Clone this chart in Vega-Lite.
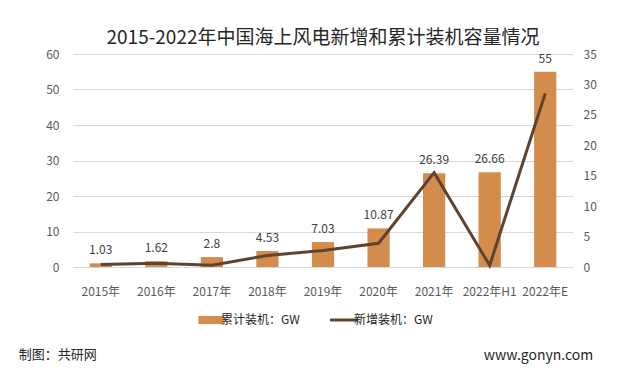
{
  "$schema": "https://vega.github.io/schema/vega-lite/v6.json",
  "background": "white",
  "padding": {"left": 18, "top": 29, "right": 5, "bottom": 10},
  "config": {
    "font": "Noto Sans CJK SC",
    "view": {"stroke": null},
    "axis": {"labelFont": "Noto Sans CJK SC", "labelColor": "#595959", "labelFontSize": 12, "ticks": false, "domain": false, "title": null}
  },
  "title": {"text": "www.gonyn.com", "orient": "bottom", "anchor": "end", "fontSize": 14, "fontWeight": "normal", "color": "#262626", "font": "Noto Sans CJK SC", "offset": 0, "dy": -13, "dx": -3},
  "resolve": {"scale": {"color": "independent"}, "legend": {"color": "independent"}},
  "vconcat": [
    {
      "title": {"text": "制图：共研网", "orient": "bottom", "anchor": "start", "fontSize": 13, "fontWeight": "normal", "color": "#262626", "font": "Noto Sans CJK SC", "offset": 23, "dx": -27},
      "resolve": {"scale": {"color": "independent"}, "legend": {"color": "independent"}},
      "vconcat": [
        {
          "title": {"text": "2015-2022年中国海上风电新增和累计装机容量情况", "fontSize": 19, "fontWeight": "normal", "color": "#262626", "font": "Noto Sans CJK SC", "anchor": "middle", "offset": 0},
          "width": 500,
          "height": 213,
          "data": {"values": [
            {"year": "2015年", "cum": 1.03, "new": 0.4},
            {"year": "2016年", "cum": 1.62, "new": 0.6},
            {"year": "2017年", "cum": 2.8, "new": 0.3},
            {"year": "2018年", "cum": 4.53, "new": 1.9},
            {"year": "2019年", "cum": 7.03, "new": 2.7},
            {"year": "2020年", "cum": 10.87, "new": 3.9},
            {"year": "2021年", "cum": 26.39, "new": 15.5},
            {"year": "2022年H1", "cum": 26.66, "new": 0.27},
            {"year": "2022年E", "cum": 55, "new": 28.5}
          ]},
          "encoding": {
            "x": {"field": "year", "type": "nominal", "sort": null,
                  "scale": {"paddingInner": 0.6, "paddingOuter": 0.3},
                  "axis": {"labelAngle": 0, "labelPadding": 19, "grid": false}}
          },
          "layer": [
            {
              "encoding": {
                "y": {"field": "cum", "type": "quantitative", "scale": {"domain": [0, 60]},
                      "axis": {"values": [0, 10, 20, 30, 40, 50, 60], "gridColor": "#D9D9D9", "labelPadding": 14, "labelOverlap": false}}
              },
              "layer": [
                {
                  "mark": {"type": "bar", "color": "#D48C4C"},
                  "encoding": {
                    "color": {"datum": "累计装机：GW", "type": "nominal",
                              "scale": {"domain": ["累计装机：GW", "新增装机：GW"], "range": ["#D48C4C", "#5C4430"]},
                              "legend": {"orient": "none", "legendX": 132, "legendY": 260, "title": null, "direction": "horizontal", "labelFontSize": 12, "labelColor": "#262626", "labelFont": "Noto Sans CJK SC", "symbolSize": 784, "columnPadding": 24, "labelOffset": 4,
                                         "encode": {"symbols": {"update": {
                                           "shape": {"signal": "datum.label == '累计装机：GW' ? 'M-0.9,-0.29H0.9V0.29H-0.9Z' : 'stroke'"},
                                           "strokeWidth": {"signal": "datum.label == '累计装机：GW' ? 0 : 3"}}}}}}
                  }
                },
                {
                  "mark": {"type": "text", "dy": -13, "fontSize": 12, "color": "#404040"},
                  "encoding": {
                    "text": {"field": "cum", "type": "quantitative"}
                  }
                }
              ]
            },
            {
              "mark": {"type": "line", "color": "#5C4430", "strokeWidth": 3},
              "encoding": {
                "y": {"field": "new", "type": "quantitative", "scale": {"domain": [0, 35]},
                      "axis": {"orient": "right", "grid": false, "values": [0, 5, 10, 15, 20, 25, 30, 35], "labelPadding": 10, "labelOverlap": false}},
                "color": {"datum": "新增装机：GW", "type": "nominal"}
              }
            }
          ],
          "resolve": {"scale": {"y": "independent"}}
        }
      ]
    }
  ]
}
